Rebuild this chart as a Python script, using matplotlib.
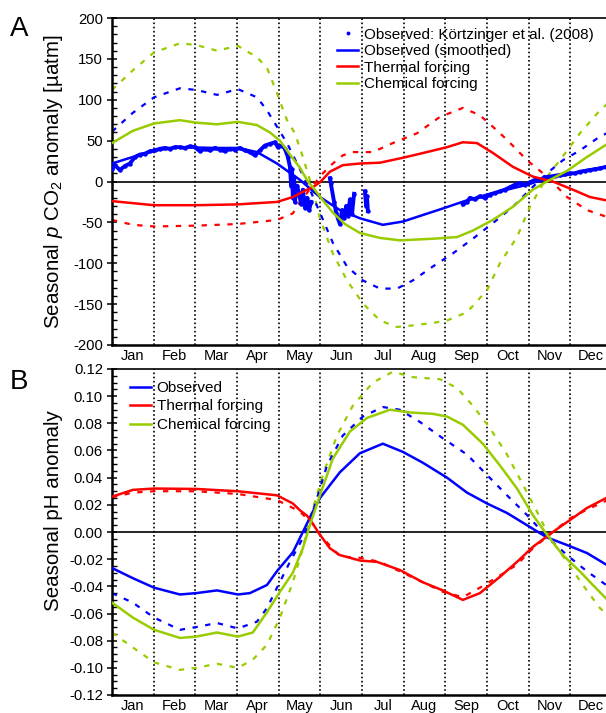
import matplotlib
matplotlib.use("Agg")
import matplotlib.pyplot as plt
from matplotlib.lines import Line2D
from matplotlib.ticker import MultipleLocator, FormatStrFormatter
import numpy as np

plt.rcParams['font.family'] = ['Liberation Sans', 'DejaVu Sans']
plt.rcParams['mathtext.fontset'] = 'custom'
plt.rcParams['mathtext.rm'] = 'Liberation Sans'
plt.rcParams['mathtext.it'] = 'Liberation Sans:italic'
plt.rcParams['axes.unicode_minus'] = False

BLUE = '#0000ff'
RED = '#ff0000'
GREEN = '#99cc00'

months = ['Jan', 'Feb', 'Mar', 'Apr', 'May', 'Jun',
          'Jul', 'Aug', 'Sep', 'Oct', 'Nov', 'Dec']

# ---- panel A: seasonal pCO2 anomaly (x in months since Jan 1) ----
obs_x = [0.00, 0.07, 0.19, 0.31, 0.43, 0.55, 0.67, 0.79, 0.91, 1.03, 1.15, 1.27,
         1.39, 1.51, 1.63, 1.75, 1.87, 1.99, 2.11, 2.23, 2.35, 2.47, 2.59, 2.71,
         2.83, 2.95, 3.07, 3.19, 3.31, 3.43, 3.55, 3.67, 3.79, 3.91, 3.98, 4.08,
         4.15, 4.22, 4.27, 4.30, 4.32, 4.34, 4.37, 4.39, 4.44, 4.49, 4.54, 4.58,
         4.63, 4.68, 4.73, 4.78, np.nan,
         5.23, 5.25, 5.33, 5.38, 5.42, 5.47, 5.52, 5.57, 5.62, 5.66, 5.71, 5.76,
         5.81, np.nan,
         6.07, 6.10, 6.12, 6.14, np.nan,
         8.42, 8.52, 8.59, 8.71, 8.83, 8.95, 9.07, 9.19, 9.31, 9.43, 9.55, 9.67,
         9.79, 9.91, 10.03, 10.15, 10.27, 10.39, 10.51, 10.63, 10.75, 10.87,
         10.99, 11.11, 11.23, 11.35, 11.47, 11.59, 11.71, 11.86, 12.00]
obs_y = [15, 20, 14, 19, 22, 30, 33, 34, 37, 38, 40, 41,
         40, 42, 42, 41, 43, 42, 37, 40, 38, 41, 39, 37,
         40, 39, 41, 38, 36, 32, 38, 44, 46, 48, 42, 44,
         40, 30, 18, -5, 15, -20, 5, -25, -5, -15, -28, -10,
         -32, -20, -35, -25, np.nan,
         4, -2, -25, -38, -45, -52, -35, -45, -30, -42, -22, -40,
         -15, np.nan,
         -12, -30, -18, -36, np.nan,
         -28, -25, -20, -22, -18, -20, -16, -14, -12, -10, -7, -4,
         -2, -4, -1, 2, 2, 5, 6, 7, 8, 9,
         10, 10, 12, 13, 14, 15, 16, 18, 19]

obs_smooth_x = [0.00, 0.50, 1.01, 1.63, 2.52, 3.02, 3.48, 3.96, 4.51, 4.99, 5.47,
                5.95, 6.50, 6.98, 7.46, 7.94, 8.52, 9.00, 9.48, 9.96, 10.44,
                10.92, 11.40, 11.86, 12.00]
obs_smooth_y = [22, 30, 38, 42, 41, 41, 36, 22, 2, -19, -35,
                -45, -53, -49, -41, -33, -23, -16, -10, -4, 4,
                8, 14, 18, 19]
obs_dash_x = [0.00, 0.50, 1.01, 1.63, 2.02, 2.52, 3.02, 3.48, 3.72, 3.96, 4.20,
              4.51, 4.75, 4.99, 5.30, 5.64, 6.02, 6.43, 6.84, 7.22, 7.70, 8.18,
              8.66, 9.14, 9.62, 10.03, 10.44, 10.82, 11.23, 11.71, 12.00]
obs_dash_y = [61, 84, 103, 114, 112, 106, 113, 103, 87, 67, 47,
              15, -10, -38, -75, -104, -121, -131, -131, -121, -104, -88,
              -70, -51, -31, -10, 10, 26, 38, 55, 62]

therm_x = [0.00, 1.01, 2.02, 3.02, 3.96, 4.34, 4.68, 4.82, 4.99, 5.23, 5.54,
           5.95, 6.43, 6.98, 7.56, 8.04, 8.42, 8.76, 9.14, 9.62, 10.10, 10.58,
           11.06, 11.47, 11.86, 12.00]
therm_y = [-24, -29, -29, -28, -25, -19, -10, -7, -1, 12, 20,
           22, 23, 29, 36, 42, 48, 47, 35, 18, 6, 0,
           -10, -19, -23, -24]
therm_dash_x = [0.00, 0.50, 1.01, 2.02, 3.02, 3.96, 4.34, 4.51, 4.82, 5.06, 5.30,
                5.54, 5.78, 6.26, 6.74, 7.32, 7.87, 8.42, 8.83, 9.14, 9.48, 9.96,
                10.44, 10.92, 11.40, 11.86, 12.00]
therm_dash_y = [-47, -53, -55, -54, -52, -47, -39, -25, -5, 10, 22,
                32, 36, 36, 47, 59, 79, 90, 81, 67, 51, 26,
                6, -19, -35, -43, -45]

chem_x = [0.00, 0.50, 1.01, 1.63, 2.02, 2.52, 3.02, 3.48, 3.79, 4.03, 4.27,
          4.51, 4.70, 4.82, 5.06, 5.30, 5.59, 5.95, 6.43, 6.91, 7.70, 8.28,
          8.66, 9.14, 9.62, 10.10, 10.51, 10.92, 11.40, 11.86, 12.00]
chem_y = [47, 62, 71, 75, 72, 70, 73, 69, 60, 50, 33,
          17, 0, -7, -23, -38, -52, -63, -69, -72, -70, -68,
          -60, -47, -31, -10, 2, 13, 30, 45, 49]
chem_dash_x = [0.00, 0.50, 1.01, 1.63, 2.02, 2.52, 3.02, 3.48, 3.72, 3.96, 4.20,
               4.39, 4.58, 4.82, 4.99, 5.30, 5.64, 6.02, 6.43, 6.84, 7.22, 7.70,
               8.04, 8.52, 9.00, 9.31, 9.72, 10.03, 10.44, 10.75, 11.23, 11.71,
               12.00]
chem_dash_y = [112, 136, 158, 169, 167, 160, 166, 152, 139, 108, 75,
               59, 30, -10, -45, -88, -121, -149, -170, -178, -176, -173,
               -170, -160, -133, -100, -68, -31, 6, 26, 59, 87,
               100]

# ---- panel B: seasonal pH anomaly ----
ph_obs_x = [0.00, 0.50, 1.01, 1.63, 2.02, 2.52, 3.02, 3.31, 3.72, 3.98, 4.34,
            4.58, 4.82, 4.99, 5.47, 5.95, 6.50, 6.98, 7.46, 8.04, 8.52, 9.00,
            9.48, 9.96, 10.44, 10.92, 11.40, 11.86, 12.00]
ph_obs_y = [-0.0265, -0.034, -0.041, -0.046, -0.045, -0.043, -0.046, -0.045,
            -0.039, -0.028, -0.015, 0.0, 0.015, 0.025, 0.044, 0.058, 0.065,
            0.059, 0.051, 0.040, 0.029, 0.021, 0.014, 0.005, -0.004, -0.0096,
            -0.0155, -0.024, -0.026]
ph_obs_dash_x = [0.00, 0.50, 1.01, 1.63, 2.02, 2.52, 3.02, 3.48, 3.72, 3.96,
                 4.27, 4.58, 4.82, 5.16, 5.54, 6.02, 6.50, 6.91, 7.39, 7.94,
                 8.52, 9.00, 9.48, 9.96, 10.44, 10.92, 11.40, 11.86, 12.00]
ph_obs_dash_y = [-0.045, -0.052, -0.063, -0.072, -0.070, -0.067, -0.071, -0.066,
                 -0.056, -0.041, -0.022, -0.0045, 0.015, 0.049, 0.071, 0.085,
                 0.092, 0.090, 0.081, 0.069, 0.057, 0.042, 0.027, 0.0125,
                 -0.0037, -0.017, -0.029, -0.039, -0.042]

ph_therm_x = [0.00, 0.50, 1.01, 2.02, 3.02, 3.96, 4.34, 4.51, 4.68, 4.82, 4.99,
              5.23, 5.47, 5.95, 6.36, 6.91, 7.46, 7.94, 8.42, 8.83, 9.31, 9.72,
              10.10, 10.58, 10.99, 11.40, 11.86, 12.00]
ph_therm_y = [0.026, 0.031, 0.032, 0.0317, 0.030, 0.027, 0.021, 0.016, 0.012,
              0.006, -0.002, -0.012, -0.017, -0.021, -0.022, -0.028, -0.037,
              -0.043, -0.050, -0.045, -0.033, -0.022, -0.011, 0.0, 0.0088,
              0.0177, 0.025, 0.027]
ph_therm_dash_x = [0.00, 0.50, 1.01, 2.02, 3.02, 3.96, 4.34, 4.51, 4.68, 4.82,
                   4.99, 5.47, 5.95, 6.43, 6.91, 7.46, 7.94, 8.42, 8.83, 9.31,
                   9.72, 10.10, 10.58, 10.99, 11.40, 11.86, 12.00]
ph_therm_dash_y = [0.0255, 0.029, 0.030, 0.030, 0.028, 0.0235, 0.0177, 0.015,
                   0.010, 0.006, -0.002, -0.018, -0.019, -0.022, -0.029, -0.037,
                   -0.044, -0.048, -0.041, -0.032, -0.024, -0.012, 0.0, 0.010,
                   0.0165, 0.023, 0.024]

ph_chem_x = [0.00, 0.50, 1.01, 1.63, 2.02, 2.52, 3.02, 3.38, 3.72, 4.03, 4.34,
             4.58, 4.75, 4.99, 5.30, 5.71, 6.12, 6.67, 7.15, 7.70, 8.04, 8.42,
             8.90, 9.31, 9.72, 10.10, 10.44, 10.82, 11.23, 11.54, 11.86, 12.00]
ph_chem_y = [-0.052, -0.063, -0.072, -0.078, -0.077, -0.074, -0.077, -0.074,
             -0.059, -0.044, -0.030, -0.012, 0.005, 0.027, 0.054, 0.074, 0.084,
             0.090, 0.088, 0.087, 0.085, 0.079, 0.065, 0.049, 0.032, 0.0125,
             -0.002, -0.017, -0.029, -0.039, -0.049, -0.052]
ph_chem_dash_x = [0.00, 0.50, 1.01, 1.63, 2.02, 2.52, 3.02, 3.38, 3.72, 4.03,
                  4.34, 4.58, 4.75, 5.06, 5.40, 5.78, 6.26, 6.74, 7.22, 7.87,
                  8.28, 8.66, 9.07, 9.48, 9.86, 10.20, 10.51, 10.92, 11.30,
                  11.71, 12.00]
ph_chem_dash_y = [-0.074, -0.085, -0.096, -0.1015, -0.100, -0.097, -0.100,
                  -0.094, -0.083, -0.063, -0.037, -0.012, 0.010, 0.042, 0.071,
                  0.093, 0.110, 0.118, 0.114, 0.1125, 0.106, 0.093, 0.0765,
                  0.057, 0.035, 0.015, -0.0045, -0.022, -0.039, -0.056, -0.064]

W, H = 606, 713
SOLID_LW = 1.8
DASH_LW = 1.6
DASHES = (2.4, 3.4)


def style_axes(ax, ylim, major, minor, fmt):
    """축 공통 스타일"""
    ax.set_xlim(0, 12)
    ax.set_ylim(*ylim)
    ax.yaxis.set_major_locator(MultipleLocator(major))
    ax.yaxis.set_minor_locator(MultipleLocator(minor))
    ax.yaxis.set_major_formatter(FormatStrFormatter(fmt))
    ax.tick_params(axis='y', which='major', direction='inout', length=7,
                   width=1.1, labelsize=10.7, pad=3)
    ax.tick_params(axis='y', which='minor', direction='in', length=3.5, width=1.0)
    ax.set_xticks(np.arange(12) + 0.5)
    ax.set_xticklabels(months)
    ax.tick_params(axis='x', length=0, labelsize=10.5, pad=3)
    for s in ['left', 'bottom']:
        ax.spines[s].set_linewidth(1.8)
    ax.spines['top'].set_linewidth(1.2)
    # month boundaries
    for m in range(1, 12):
        ax.axvline(m, color='black', linestyle=(0, (1, 1.5)), linewidth=1.2, zorder=1)
    ax.axhline(0, color='black', linewidth=1.2, zorder=1)


fig = plt.figure(figsize=(W / 100, H / 100), dpi=100)
axA = fig.add_axes([112 / W, (H - 345) / H, 500 / W, 327 / H])
axB = fig.add_axes([112 / W, (H - 695) / H, 500 / W, 326 / H])

# panel A
style_axes(axA, (-200, 200), 50, 10, '%d')
axA.plot(chem_dash_x, chem_dash_y, color=GREEN, lw=DASH_LW, dashes=DASHES)
axA.plot(obs_dash_x, obs_dash_y, color=BLUE, lw=DASH_LW, dashes=DASHES)
axA.plot(therm_dash_x, therm_dash_y, color=RED, lw=DASH_LW, dashes=DASHES)
axA.plot(obs_x, obs_y, color=BLUE, lw=2.8, marker='o', ms=2.2, zorder=3)
axA.plot(obs_smooth_x, obs_smooth_y, color=BLUE, lw=SOLID_LW, zorder=4)
axA.plot(therm_x, therm_y, color=RED, lw=SOLID_LW, zorder=4)
axA.plot(chem_x, chem_y, color=GREEN, lw=SOLID_LW, zorder=4)
axA.set_ylabel(r'Seasonal $\it{p}$ CO$_2$ anomaly [µatm]', fontsize=14.8, labelpad=6)

hA = [Line2D([], [], color=BLUE, ls='none', marker='o', ms=1.8),
      Line2D([], [], color=BLUE, lw=SOLID_LW),
      Line2D([], [], color=RED, lw=SOLID_LW),
      Line2D([], [], color=GREEN, lw=SOLID_LW)]
lA = ['Observed: Körtzinger et al. (2008)', 'Observed (smoothed)',
      'Thermal forcing', 'Chemical forcing']
axA.legend(hA, lA, loc='upper left', bbox_to_anchor=(0.45, 0.97), frameon=False,
           fontsize=11, borderpad=0, borderaxespad=0, labelspacing=0.16,
           handlelength=1.4, handletextpad=0.35)

# panel B
style_axes(axB, (-0.12, 0.12), 0.02, 0.005, '%.2f')
axB.plot(ph_chem_dash_x, ph_chem_dash_y, color=GREEN, lw=DASH_LW, dashes=DASHES)
axB.plot(ph_obs_dash_x, ph_obs_dash_y, color=BLUE, lw=DASH_LW, dashes=DASHES)
axB.plot(ph_therm_dash_x, ph_therm_dash_y, color=RED, lw=DASH_LW, dashes=DASHES)
axB.plot(ph_obs_x, ph_obs_y, color=BLUE, lw=SOLID_LW, zorder=4, label='Observed')
axB.plot(ph_therm_x, ph_therm_y, color=RED, lw=SOLID_LW, zorder=4, label='Thermal forcing')
axB.plot(ph_chem_x, ph_chem_y, color=GREEN, lw=SOLID_LW, zorder=4, label='Chemical forcing')
axB.set_ylabel('Seasonal pH anomaly', fontsize=14.8, labelpad=6)
axB.yaxis.set_label_coords(-0.098, 0.567)
axB.legend(loc='upper left', bbox_to_anchor=(0.036, 0.963), frameon=False,
           fontsize=11, borderpad=0, borderaxespad=0, labelspacing=0.29,
           handlelength=1.4, handletextpad=0.35)

# panel letters
fig.text(10 / W, 1 - 36 / H, 'A', fontsize=20)
fig.text(10 / W, 1 - 389 / H, 'B', fontsize=20)

fig.savefig('out.png', dpi=100)
